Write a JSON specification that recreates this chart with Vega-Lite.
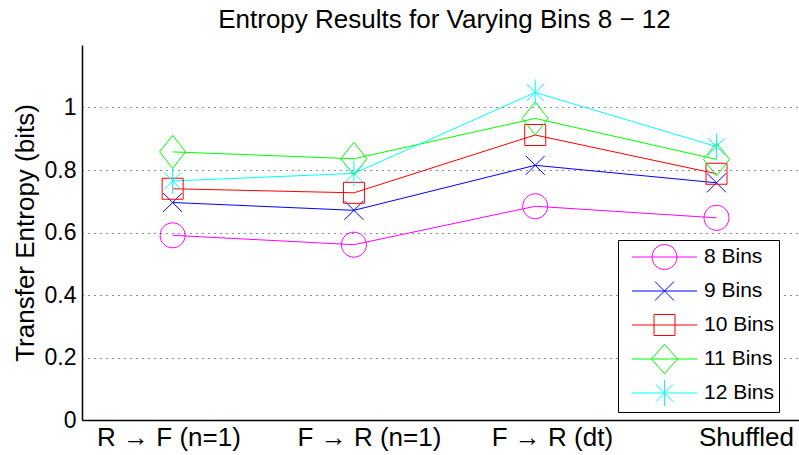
{
  "$schema": "https://vega.github.io/schema/vega-lite/v6.json",
  "width": 717,
  "height": 375,
  "autosize": {"type": "none"},
  "padding": {"left": 82, "top": 45, "right": 0, "bottom": 35},
  "background": "white",
  "config": {"font": "Liberation Sans", "view": {"stroke": null},
    "legend": {"title": null, "orient": "none", "legendX": 536, "legendY": 195, "strokeColor": "black", "fillColor": "white",
        "padding": 4, "symbolSize": 625, "symbolStrokeWidth": 1, "symbolOpacity": 1, "symbolOffset": 29.5, "labelOffset": 26.5, "labelFontSize": 21, "labelColor": "black",
        "gridAlign": "all", "rowPadding": 0}},
  "title": {"text": "Entropy Results for Varying Bins 8 − 12", "fontSize": 26, "fontWeight": "normal", "color": "black", "anchor": "middle", "frame": "group", "offset": 12, "dx": 4},
  "data": {"values": [
    {"cond": 1, "series": "8 Bins", "te": 0.591},
    {"cond": 2, "series": "8 Bins", "te": 0.561},
    {"cond": 3, "series": "8 Bins", "te": 0.684},
    {"cond": 4, "series": "8 Bins", "te": 0.647},
    {"cond": 1, "series": "9 Bins", "te": 0.696},
    {"cond": 2, "series": "9 Bins", "te": 0.671},
    {"cond": 3, "series": "9 Bins", "te": 0.815},
    {"cond": 4, "series": "9 Bins", "te": 0.759},
    {"cond": 1, "series": "10 Bins", "te": 0.740},
    {"cond": 2, "series": "10 Bins", "te": 0.727},
    {"cond": 3, "series": "10 Bins", "te": 0.912},
    {"cond": 4, "series": "10 Bins", "te": 0.788},
    {"cond": 1, "series": "11 Bins", "te": 0.858},
    {"cond": 2, "series": "11 Bins", "te": 0.836},
    {"cond": 3, "series": "11 Bins", "te": 0.965},
    {"cond": 4, "series": "11 Bins", "te": 0.834},
    {"cond": 1, "series": "12 Bins", "te": 0.765},
    {"cond": 2, "series": "12 Bins", "te": 0.789},
    {"cond": 3, "series": "12 Bins", "te": 1.048},
    {"cond": 4, "series": "12 Bins", "te": 0.875}
  ]},
  "encoding": {
    "x": {"field": "cond", "type": "quantitative", "scale": {"domain": [0.5, 4.455], "nice": false, "zero": false},
      "axis": {"title": null, "values": [0.977, 2.083, 3.092, 4.162], "grid": false, "ticks": false,
        "labelExpr": "datum.value < 1.5 ? 'R → F (n=1)' : datum.value < 2.5 ? 'F → R (n=1)' : datum.value < 3.5 ? 'F → R (dt)' : 'Shuffled'",
        "labelFontSize": 26, "labelColor": "black", "labelPadding": 4, "labelFlush": false, "labelOverlap": false,
        "domainColor": "black", "domainWidth": 1.5}},
    "y": {"field": "te", "type": "quantitative", "scale": {"domain": [0, 1.2], "nice": false},
      "axis": {"title": "Transfer Entropy (bits)", "titleFontSize": 26, "titleFontWeight": "normal", "titleColor": "black", "titlePadding": 6,
        "values": [0, 0.2, 0.4, 0.6, 0.8, 1], "format": ".1~f", "labelFontSize": 23, "labelColor": "black", "labelPadding": 6,
        "labelFlush": false, "labelOverlap": false,
        "grid": true, "gridDash": [1, 5], "gridColor": "black", "gridOpacity": 0.9, "gridWidth": 1,
        "ticks": false, "domainColor": "black", "domainWidth": 1.5}}
  },
  "resolve": {"scale": {"color": "independent", "shape": "independent"}},
  "layer": [
    {"data": {"values": [{}]}, "mark": {"type": "rule", "color": "black", "strokeWidth": 1.5},
      "encoding": {"y": {"datum": 1.2, "type": "quantitative"}, "x": null}},
    {"mark": {"type": "line", "strokeWidth": 1},
      "encoding": {"color": {"field": "series", "type": "nominal", "legend": null,
        "scale": {"domain": ["8 Bins", "9 Bins", "10 Bins", "11 Bins", "12 Bins"], "range": ["#ff00ff", "#0000ff", "#ff0000", "#00ff00", "#00ffff"]}}}},
    {"mark": {"type": "point", "filled": false, "strokeWidth": 1, "size": 625, "opacity": 1},
      "encoding": {
        "color": {"field": "series", "type": "nominal", "legend": null,
          "scale": {"domain": ["8 Bins", "9 Bins", "10 Bins", "11 Bins", "12 Bins"], "range": ["#ff00ff", "#0000ff", "#ff0000", "#00ff00", "#00ffff"]}},
        "shape": {"field": "series", "type": "nominal", "legend": null,
          "scale": {"domain": ["8 Bins", "9 Bins", "10 Bins", "11 Bins", "12 Bins"],
            "range": ["M-1,0A1,1,0,1,1,1,0A1,1,0,1,1,-1,0Z", "M-0.76,-0.76L0.76,0.76M-0.76,0.76L0.76,-0.76", "M-0.84,-0.84L0.84,-0.84L0.84,0.84L-0.84,0.84Z", "M0,-1.32L1.04,0L0,1.32L-1.04,0Z", "M0,-1.04L0,1.04M-0.68,-0.68L0.68,0.68M-0.68,0.68L0.68,-0.68"]}}}},
    {"mark": {"type": "point", "filled": false, "strokeWidth": 1, "size": 625, "opacity": 0},
      "encoding": {
        "color": {"field": "series", "type": "nominal", "legend": {},
          "scale": {"domain": ["8 Bins", "9 Bins", "10 Bins", "11 Bins", "12 Bins"], "range": ["#ff00ff", "#0000ff", "#ff0000", "#00ff00", "#00ffff"]}},
        "shape": {"field": "series", "type": "nominal", "legend": {},
          "scale": {"domain": ["8 Bins", "9 Bins", "10 Bins", "11 Bins", "12 Bins"],
            "range": ["M-2.6,0L2.6,0M1,0L0.966,0.259L0.866,0.5L0.707,0.707L0.5,0.866L0.259,0.966L0,1L-0.259,0.966L-0.5,0.866L-0.707,0.707L-0.866,0.5L-0.966,0.259L-1,0L-0.966,-0.259L-0.866,-0.5L-0.707,-0.707L-0.5,-0.866L-0.259,-0.966L0,-1L0.259,-0.966L0.5,-0.866L0.707,-0.707L0.866,-0.5L0.966,-0.259Z", "M-2.6,0L2.6,0M-0.76,-0.76L0.76,0.76M-0.76,0.76L0.76,-0.76", "M-2.6,0L2.6,0M-0.84,-0.84L0.84,-0.84L0.84,0.84L-0.84,0.84Z", "M-2.6,0L2.6,0M0,-1.18L1.04,0L0,1.18L-1.04,0Z", "M-2.6,0L2.6,0M0,-1.04L0,1.04M-0.68,-0.68L0.68,0.68M-0.68,0.68L0.68,-0.68"]}}}}
  ]
}
